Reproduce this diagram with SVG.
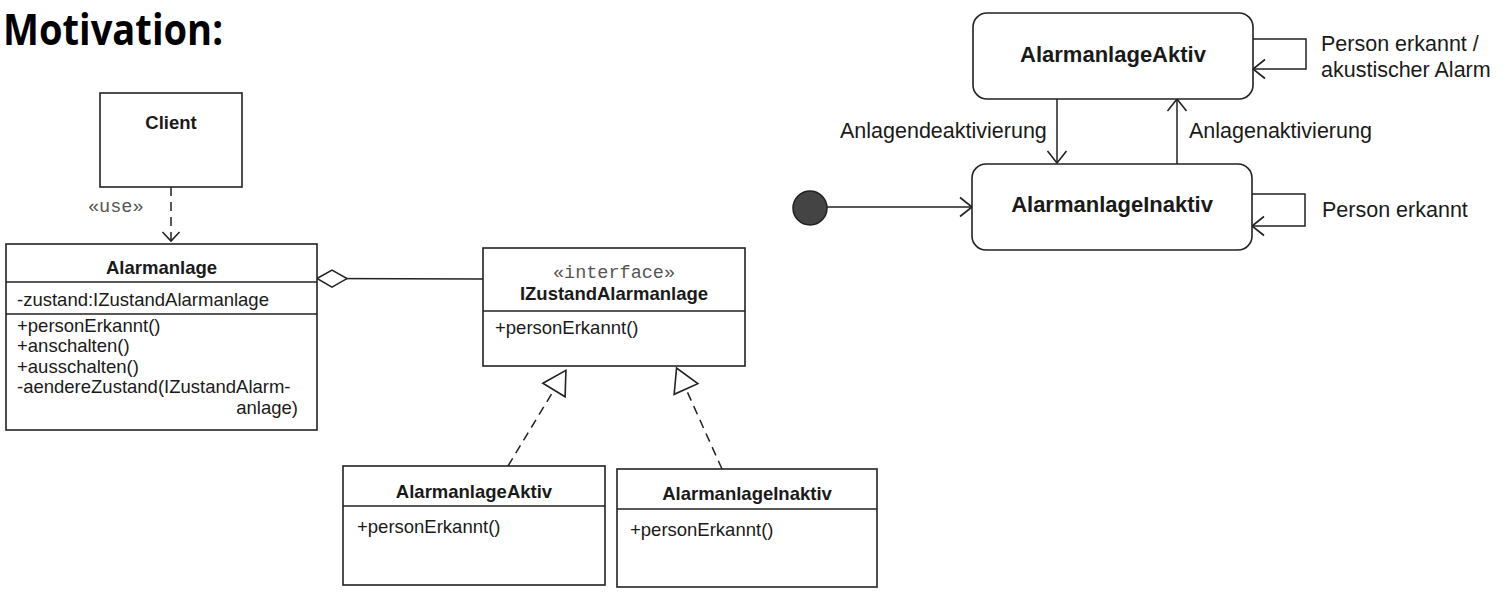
<svg xmlns="http://www.w3.org/2000/svg" width="1508" height="602" viewBox="0 0 1508 602">
<style>
.bg{fill:#ffffff}
.box{fill:#ffffff;stroke:#222;stroke-width:1.6}
.sep{stroke:#222;stroke-width:1.4}
.t{font-family:"Liberation Sans",Arial,sans-serif;font-size:18.5px;fill:#1a1a1a}
.b{font-weight:bold}
.mid{text-anchor:middle}
.end{text-anchor:end}
.st{font-family:"Liberation Sans",Arial,sans-serif;font-size:21.5px;fill:#1a1a1a}
.ster{font-family:"Liberation Mono","Courier New",monospace;font-size:18.5px;fill:#555}
.line{fill:none;stroke:#222;stroke-width:1.5}
.dash{stroke-dasharray:9,6}
.title{font-family:"Open Sans","Liberation Sans",sans-serif;font-weight:700;font-size:43px;fill:#000}
</style>
<defs>
<marker id="open" markerUnits="userSpaceOnUse" orient="auto" refX="0" refY="0" markerWidth="30" markerHeight="30" overflow="visible">
<path d="M-12,-9.5 L0,0 L-12,9.5" fill="none" stroke="#222" stroke-width="1.6"/>
</marker>
<marker id="openS" markerUnits="userSpaceOnUse" orient="auto" refX="0" refY="0" markerWidth="30" markerHeight="30" overflow="visible">
<path d="M-9,-8.5 L0,0 L-9,8.5" fill="none" stroke="#222" stroke-width="1.6"/>
</marker>
<marker id="tri" markerUnits="userSpaceOnUse" orient="auto" refX="0" refY="0" markerWidth="40" markerHeight="40" overflow="visible">
<path d="M0,-13 L23,0 L0,13 Z" fill="#fff" stroke="#222" stroke-width="1.6"/>
</marker>
<marker id="diamond" markerUnits="userSpaceOnUse" orient="auto" refX="0" refY="0" markerWidth="40" markerHeight="40" overflow="visible">
<path d="M0,0 L15,-8.5 L30,0 L15,8.5 Z" fill="#fff" stroke="#222" stroke-width="1.5"/>
</marker>
</defs>
<rect class="bg" x="0" y="0" width="1508" height="602"/>
<text class="title" x="3" y="45" textLength="220" lengthAdjust="spacingAndGlyphs">Motivation:</text>

<g id="connectors">
<line class="line dash" x1="171" y1="187" x2="171" y2="241" marker-end="url(#openS)"/>
<text class="ster" x="88" y="212">«use»</text>
<line class="line" x1="317" y1="278.5" x2="483" y2="279" marker-start="url(#diamond)"/>
<line class="line dash" x1="508" y1="466" x2="554" y2="390" marker-end="url(#tri)"/>
<line class="line dash" x1="722" y1="469" x2="686" y2="389" marker-end="url(#tri)"/>
<line class="line" x1="827" y1="207" x2="972" y2="207" marker-end="url(#open)"/>
<line class="line" x1="1057" y1="99" x2="1057" y2="163" marker-end="url(#open)"/>
<text class="st" x="840" y="138">Anlagendeaktivierung</text>
<line class="line" x1="1177" y1="164" x2="1177" y2="99" marker-end="url(#open)"/>
<text class="st" x="1189" y="138">Anlagenaktivierung</text>
<polyline class="line" points="1253,39 1306,39 1306,69 1253,69" marker-end="url(#open)"/>
<text class="st" x="1321" y="51">Person erkannt /</text>
<text class="st" x="1321" y="77">akustischer Alarm</text>
<polyline class="line" points="1252,194 1305,194 1305,226 1252,226" marker-end="url(#open)"/>
<text class="st" x="1322" y="217">Person erkannt</text>
</g>

<g id="client">
<rect class="box" x="100" y="93" width="142" height="94"/>
<text class="t b mid" x="171" y="129">Client</text>
</g>

<g id="alarmanlage">
<rect class="box" x="6" y="244" width="311" height="186"/>
<line class="sep" x1="6" y1="282" x2="317" y2="282"/>
<line class="sep" x1="6" y1="314" x2="317" y2="314"/>
<text class="t b mid" x="161.5" y="274">Alarmanlage</text>
<text class="t" x="17" y="306">-zustand:IZustandAlarmanlage</text>
<text class="t" x="17" y="332">+personErkannt()</text>
<text class="t" x="17" y="352">+anschalten()</text>
<text class="t" x="17" y="372.5">+ausschalten()</text>
<text class="t" x="17" y="393">-aendereZustand(IZustandAlarm-</text>
<text class="t end" x="298" y="414">anlage)</text>
</g>

<g id="izustand">
<rect class="box" x="483" y="248" width="262" height="118"/>
<line class="sep" x1="483" y1="311" x2="745" y2="311"/>
<text class="ster mid" x="614" y="278">«interface»</text>
<text class="t b mid" x="614" y="300">IZustandAlarmanlage</text>
<text class="t" x="495" y="334">+personErkannt()</text>
</g>

<g id="class-aktiv">
<rect class="box" x="343" y="466" width="262" height="119"/>
<line class="sep" x1="343" y1="506" x2="605" y2="506"/>
<text class="t b mid" x="474" y="498">AlarmanlageAktiv</text>
<text class="t" x="357" y="533">+personErkannt()</text>
</g>

<g id="class-inaktiv">
<rect class="box" x="617" y="469" width="260" height="118"/>
<line class="sep" x1="617" y1="509" x2="877" y2="509"/>
<text class="t b mid" x="747" y="500">AlarmanlageInaktiv</text>
<text class="t" x="630" y="536">+personErkannt()</text>
</g>

<g id="initial">
<circle cx="810" cy="208" r="17" fill="#444" stroke="#222" stroke-width="1.5"/>
</g>

<g id="state-aktiv">
<rect class="box" x="973" y="13" width="280" height="86" rx="14" ry="14"/>
<text class="st b mid" x="1113" y="62" style="font-size:22px">AlarmanlageAktiv</text>
</g>

<g id="state-inaktiv">
<rect class="box" x="972" y="164" width="280" height="86" rx="14" ry="14"/>
<text class="st b mid" x="1112" y="212" style="font-size:22px">AlarmanlageInaktiv</text>
</g>
</svg>
